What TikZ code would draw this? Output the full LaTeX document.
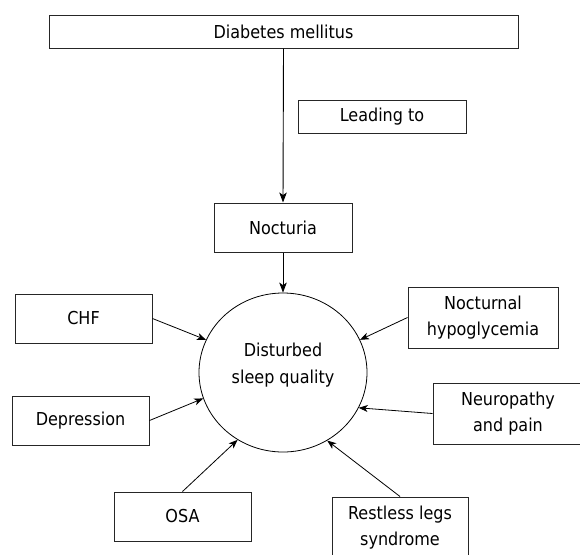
\documentclass[tikz,border=0pt]{standalone}
\usepackage{fontspec}
\setmainfont{DejaVu Sans Condensed}
\usetikzlibrary{shapes.geometric,arrows.meta}
\begin{document}
\begin{tikzpicture}[x=1pt,y=-1pt,
  box/.style={draw=black!85,line width=1pt,rectangle,inner sep=0pt,align=center,
    font=\fontsize{17.8}{25.5}\selectfont},
  arr/.style={line width=0.9pt,-{Stealth[length=10pt,width=7.5pt,inset=2.5pt]}},
  sarr/.style={line width=0.8pt,-{Stealth[length=9pt,width=7pt,inset=2.5pt]}}]
\useasboundingbox (0,0) rectangle (580,554);
\clip (0,0) rectangle (580,554);
\node[box,minimum width=469pt,minimum height=33pt] (dm) at (283.5,31.5) {Diabetes mellitus};
\node[box,minimum width=168pt,minimum height=33pt] (lead) at (382,116.5) {Leading to};
\node[box,minimum width=138pt,minimum height=49pt] (noct) at (283,227.5) {Nocturia};
\node[draw=black,line width=0.8pt,ellipse,minimum width=168pt,minimum height=159pt,inner sep=0pt] (ds) at (283,372.5) {};
\node[align=center,font=\fontsize{17.8}{27}\selectfont] (dstext) at (283,365) {Disturbed\\sleep quality};
\node[box,minimum width=137pt,minimum height=49pt] (chf) at (83.5,318.5) {CHF};
\node[box,minimum width=137pt,minimum height=49pt] (dep) at (80.5,420.5) {Depression};
\node[box,minimum width=150pt,minimum height=61pt] (nh) at (483,317.5) {Nocturnal\\hypoglycemia};
\node[box,minimum width=150pt,minimum height=61pt] (neu) at (508,413.5) {Neuropathy\\and pain};
\node[box,minimum width=137pt,minimum height=49pt] (osa) at (182.5,516.5) {OSA};
\node[box,minimum width=136pt,minimum height=61pt] (rls) at (400,527.5) {Restless legs\\syndrome};
\draw[arr] (dm.south) -- (noct.north);
\draw[arr] (noct.south) -- (ds.north);
\draw[sarr] (chf.east) -- (ds.157);
\draw[sarr] (nh.west) -- (ds.23);
\draw[sarr] (dep.east) -- (ds.198);
\draw[sarr] (neu.west) -- (ds.335);
\draw[sarr] (osa.north) -- (ds.236);
\draw[sarr] (rls.north) -- (ds.303);
\end{tikzpicture}
\end{document}
